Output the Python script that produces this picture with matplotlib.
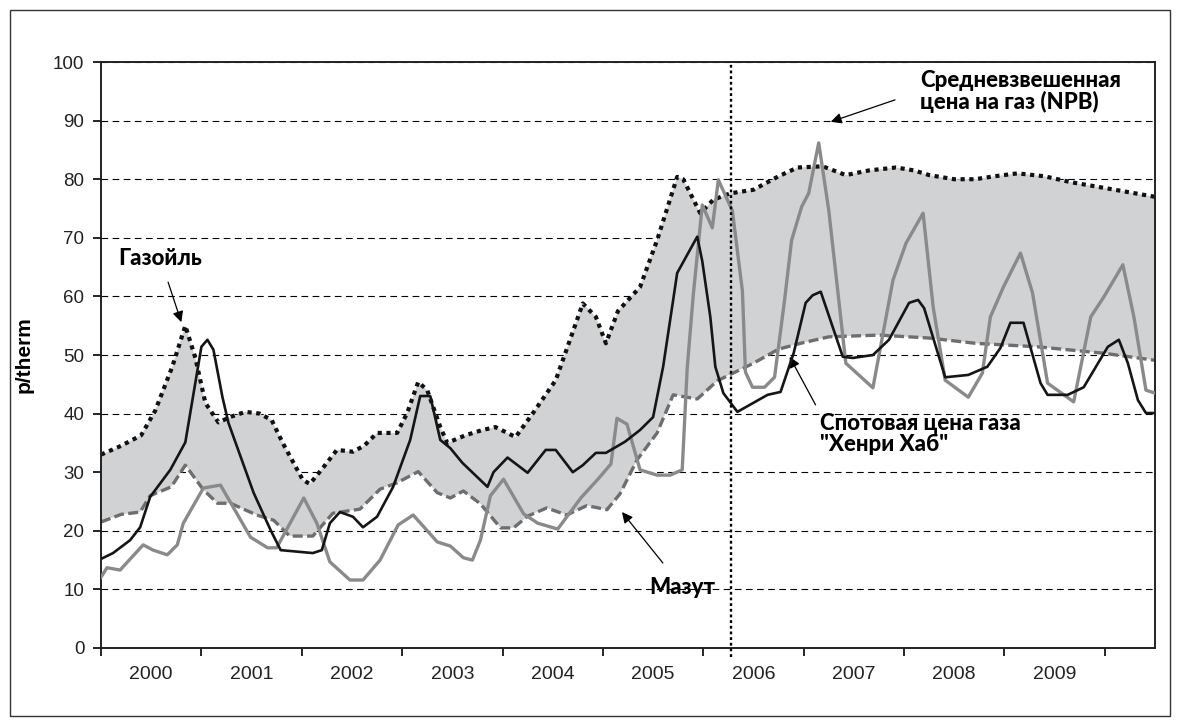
import matplotlib
matplotlib.use('Agg')
import matplotlib.pyplot as plt
from matplotlib.patches import Rectangle
import numpy as np

# Газойль (верхняя граница серой зоны), p/therm
gasoil_x = [2000.00, 2000.20, 2000.40, 2000.54, 2000.71, 2000.84, 2000.94, 2001.04, 2001.17, 2001.30,
            2001.44, 2001.58, 2001.70, 2001.81, 2002.01, 2002.08, 2002.20, 2002.35, 2002.51, 2002.62,
            2002.75, 2002.95, 2003.05, 2003.16, 2003.25, 2003.38, 2003.45, 2003.63, 2003.80, 2003.93,
            2004.13, 2004.30, 2004.53, 2004.66, 2004.80, 2004.93, 2005.03, 2005.15, 2005.37, 2005.54,
            2005.74, 2005.80, 2005.97, 2006.10, 2006.27, 2006.50, 2006.75, 2006.94, 2007.19, 2007.42,
            2007.65, 2007.92, 2008.10, 2008.25, 2008.50, 2008.71, 2008.90, 2009.13, 2009.40, 2009.66,
            2010.00, 2010.50]
gasoil_y = [33.0, 34.5, 36.3, 40.5, 48.0, 55.0, 49.5, 41.8, 38.5, 39.5,
            40.3, 40.0, 38.9, 35.0, 28.7, 28.0, 30.5, 33.8, 33.5, 34.5,
            36.7, 36.7, 40.1, 45.4, 44.0, 37.7, 35.0, 36.3, 37.2, 37.7,
            36.0, 40.0, 45.7, 52.0, 58.8, 56.5, 52.0, 57.5, 61.6, 69.6,
            80.4, 80.0, 74.2, 76.5, 77.6, 78.2, 80.5, 82.0, 82.2, 80.7,
            81.5, 82.0, 81.5, 80.7, 80.0, 80.0, 80.5, 81.0, 80.5, 79.5,
            78.5, 77.0]

# Мазут (нижняя граница серой зоны)
fuel_x = [2000.00, 2000.20, 2000.39, 2000.49, 2000.70, 2000.84, 2001.02, 2001.16, 2001.29, 2001.55,
          2001.72, 2001.88, 2002.11, 2002.31, 2002.58, 2002.78, 2002.95, 2003.16, 2003.35, 2003.48,
          2003.61, 2003.78, 2003.98, 2004.11, 2004.25, 2004.44, 2004.64, 2004.84, 2005.04, 2005.17,
          2005.34, 2005.54, 2005.70, 2005.94, 2006.14, 2006.50, 2006.75, 2006.97, 2007.25, 2007.75,
          2008.25, 2008.71, 2009.33, 2009.99, 2010.50]
fuel_y = [21.5, 22.8, 23.2, 26.0, 27.5, 31.2, 27.0, 24.7, 24.7, 22.7,
          21.8, 19.1, 19.1, 23.0, 23.7, 27.1, 28.2, 30.1, 26.5, 25.6,
          26.8, 24.6, 20.5, 20.5, 22.5, 23.9, 22.7, 24.3, 23.6, 26.3,
          32.1, 36.7, 43.2, 42.5, 45.6, 48.6, 51.0, 52.0, 53.1, 53.4,
          52.9, 52.0, 51.4, 50.3, 49.1]

# Спотовая цена газа "Хенри Хаб"
hh_x = [2000.00, 2000.12, 2000.29, 2000.39, 2000.49, 2000.69, 2000.84, 2001.00, 2001.06, 2001.12,
        2001.21, 2001.27, 2001.52, 2001.69, 2001.79, 2002.11, 2002.20, 2002.28, 2002.38, 2002.51,
        2002.61, 2002.75, 2002.91, 2003.08, 2003.18, 2003.28, 2003.38, 2003.48, 2003.60, 2003.85,
        2003.91, 2004.05, 2004.25, 2004.43, 2004.53, 2004.70, 2004.80, 2004.93, 2005.03, 2005.22,
        2005.37, 2005.50, 2005.60, 2005.70, 2005.74, 2005.94, 2005.99, 2006.07, 2006.12, 2006.20,
        2006.34, 2006.64, 2006.77, 2006.90, 2007.02, 2007.09, 2007.17, 2007.39, 2007.49, 2007.69,
        2007.85, 2008.05, 2008.14, 2008.20, 2008.41, 2008.64, 2008.83, 2008.96, 2009.06, 2009.19,
        2009.36, 2009.43, 2009.63, 2009.79, 2010.03, 2010.14, 2010.23, 2010.33, 2010.41, 2010.50]
hh_y = [15.2, 16.2, 18.4, 20.6, 25.8, 30.4, 35.1, 51.4, 52.6, 50.9,
        42.8, 38.4, 26.5, 20.1, 16.7, 16.2, 16.7, 21.3, 23.2, 22.4,
        20.6, 22.4, 27.5, 35.5, 43.0, 43.0, 35.5, 34.1, 31.6, 27.5,
        30.0, 32.5, 29.9, 33.8, 33.8, 30.0, 31.2, 33.3, 33.3, 35.2,
        37.2, 39.4, 48.0, 59.4, 64.0, 70.2, 66.0, 56.5, 48.0, 43.5,
        40.3, 43.2, 43.7, 50.3, 58.9, 60.2, 60.8, 49.7, 49.5, 50.0,
        52.6, 58.9, 59.4, 58.0, 46.2, 46.6, 48.0, 51.2, 55.5, 55.5,
        45.2, 43.2, 43.2, 44.5, 51.4, 52.6, 48.6, 42.3, 40.1, 40.1]

# Средневзвешенная цена на газ (NBP)
nbp_x = [2000.00, 2000.06, 2000.19, 2000.42, 2000.52, 2000.66, 2000.76, 2000.82, 2001.02, 2001.19,
         2001.49, 2001.66, 2001.75, 2002.02, 2002.15, 2002.28, 2002.48, 2002.61, 2002.78, 2002.96,
         2003.11, 2003.35, 2003.48, 2003.61, 2003.70, 2003.78, 2003.88, 2004.01, 2004.21, 2004.35,
         2004.55, 2004.78, 2004.95, 2005.08, 2005.14, 2005.24, 2005.37, 2005.54, 2005.67, 2005.79,
         2005.84, 2005.90, 2005.99, 2006.09, 2006.15, 2006.29, 2006.39, 2006.42, 2006.49, 2006.61,
         2006.71, 2006.81, 2006.88, 2006.98, 2007.05, 2007.15, 2007.25, 2007.42, 2007.69, 2007.89,
         2008.02, 2008.19, 2008.29, 2008.41, 2008.64, 2008.78, 2008.86, 2008.99, 2009.16, 2009.28,
         2009.43, 2009.69, 2009.86, 2009.99, 2010.18, 2010.29, 2010.41, 2010.50]
nbp_y = [12.1, 13.7, 13.3, 17.6, 16.7, 15.9, 17.6, 21.3, 27.3, 27.8,
         18.9, 17.1, 17.1, 25.6, 21.3, 14.7, 11.6, 11.6, 15.0, 21.0,
         22.7, 18.1, 17.4, 15.4, 15.0, 18.4, 26.0, 28.8, 22.9, 21.3,
         20.3, 25.6, 28.8, 31.4, 39.2, 38.2, 30.4, 29.5, 29.5, 30.4,
         47.8, 60.2, 75.6, 71.7, 79.9, 74.6, 60.9, 47.1, 44.5, 44.5,
         46.2, 59.4, 69.6, 75.3, 77.6, 86.2, 74.7, 48.6, 44.4, 62.8,
         69.1, 74.2, 58.2, 45.7, 42.8, 46.9, 56.5, 61.6, 67.4, 60.6,
         45.2, 42.0, 56.5, 59.9, 65.4, 56.5, 44.0, 43.5]

years = list(range(2000, 2010))
split_year = 2006.28

plt.rcParams['font.family'] = ['Liberation Sans', 'DejaVu Sans']
# narrow heavy captions
label_font = dict(family=['Lato', 'DejaVu Sans'], weight=900, size=16)

fig = plt.figure(figsize=(11.8, 7.28), dpi=100)
ax = fig.add_axes([0.0856, 0.1099, 0.8932, 0.8049])

# shaded band between gasoil and fuel oil
band_x = np.concatenate([gasoil_x, fuel_x[::-1]])
band_y = np.concatenate([gasoil_y, fuel_y[::-1]])
ax.fill(band_x, band_y, color='#d1d2d4', lw=0, zorder=1)

ax.plot(fuel_x, fuel_y, color='#6e6e6e', lw=2.4, ls=(0, (3, 1.3)), zorder=2)
ax.plot(gasoil_x, gasoil_y, color='#111111', lw=3.0, ls=(0, (1, 1.1)), zorder=2)
ax.plot(nbp_x, nbp_y, color='#8a8a8a', lw=2.4, zorder=3)
ax.plot(hh_x, hh_y, color='#151515', lw=1.9, zorder=4)

ax.plot([split_year, split_year], [-1.5, 100], color='black', lw=1.7,
        ls=(0, (1.2, 1.2)), clip_on=False, zorder=5)

ax.set_xlim(2000, 2010.5)
ax.set_ylim(0, 100)
ax.set_yticks(range(0, 101, 10))
ax.set_xticks(range(2000, 2011))
ax.set_xticklabels([])
ax.set_xticks([y + 0.5 for y in years], minor=True)
ax.set_xticklabels([str(y) for y in years], minor=True)
ax.tick_params(axis='x', which='major', length=6, width=1.2, direction='out')
ax.tick_params(axis='x', which='minor', length=0, pad=13, labelsize=14, labelcolor='#222222')
ax.tick_params(axis='y', length=6, width=1.2, direction='out', pad=6,
               labelsize=13.5, labelcolor='#222222')

ax.set_axisbelow(True)
ax.yaxis.grid(True, color='black', lw=0.8, ls=(0, (6, 4)))
for s in ax.spines.values():
    s.set_linewidth(1.4)
    s.set_color('#222222')

ax.set_ylabel('p/therm', fontsize=15, fontweight='bold', labelpad=14)

ax.annotate('Газойль', xy=(2000.80, 55.6), xytext=(2000.59, 66.5),
            ha='center', va='center', **label_font,
            arrowprops=dict(arrowstyle='-|>', color='black', lw=0.9, mutation_scale=16,
                            shrinkA=8, shrinkB=0))
ax.annotate('Мазут', xy=(2005.19, 23.2), xytext=(2005.79, 10.4),
            ha='center', va='center', **label_font,
            arrowprops=dict(arrowstyle='-|>', color='black', lw=0.9, mutation_scale=16,
                            shrinkA=10, shrinkB=0))
ax.annotate('Средневзвешенная\nцена на газ (NPB)', xy=(2007.27, 89.8), xytext=(2008.16, 95.0),
            ha='left', va='center', linespacing=1.0, **label_font,
            bbox=dict(boxstyle='square,pad=0.3', fc='white', ec='none'),
            arrowprops=dict(arrowstyle='-|>', color='black', lw=0.9, mutation_scale=16,
                            shrinkA=14, shrinkB=0, relpos=(0, 0.5)))
ax.annotate('Спотовая цена газа\n"Хенри Хаб"', xy=(2006.86, 49.7), xytext=(2007.16, 36.6),
            ha='left', va='center', linespacing=1.0, **label_font,
            arrowprops=dict(arrowstyle='-|>', color='black', lw=0.9, mutation_scale=16,
                            shrinkA=4, shrinkB=0, relpos=(0.0, 1.0)))

fig.patches.append(Rectangle((0.0085, 0.0165), 0.983, 0.9695, transform=fig.transFigure,
                             fill=False, lw=1.0, ec='#333333'))

fig.savefig('out.png', dpi=100)
